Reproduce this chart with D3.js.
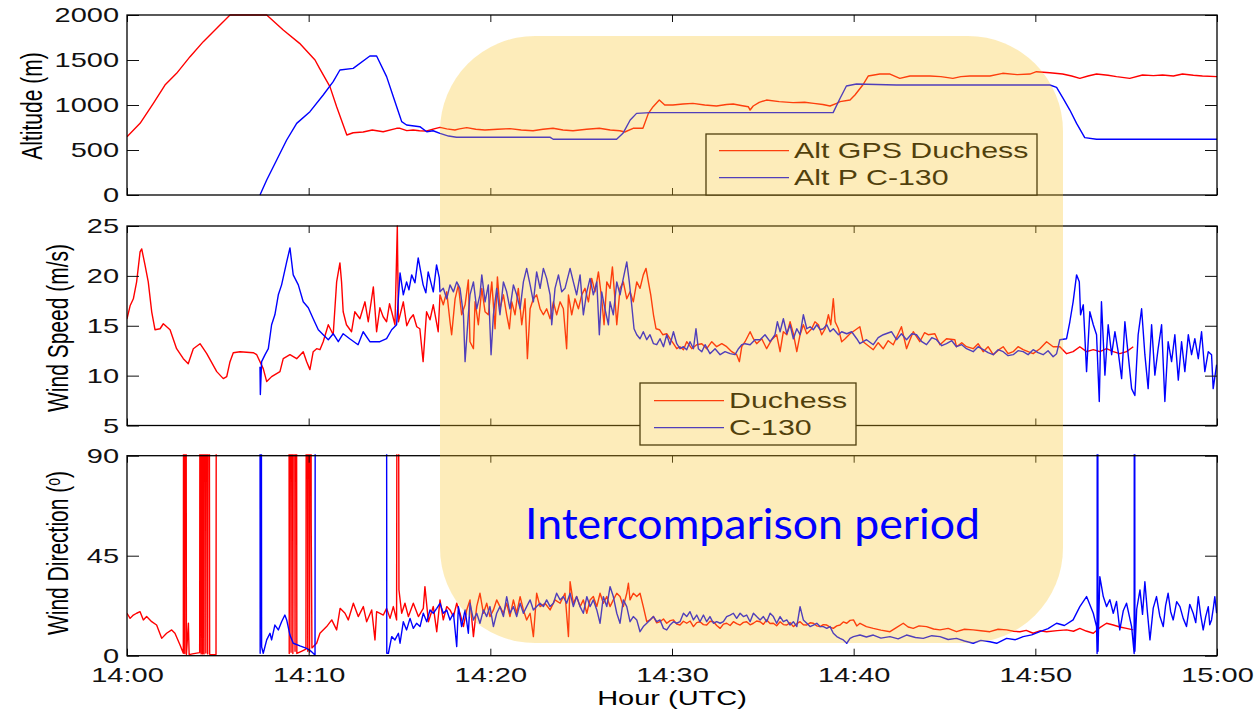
<!DOCTYPE html>
<html>
<head>
<meta charset="utf-8">
<script src="https://cdn.jsdelivr.net/npm/d3@7"></script>
<style>
  html, body { margin: 0; padding: 0; background: #fff; }
  svg { display: block; }
</style>
</head>
<body>
<svg id="chart" width="1259" height="711"></svg>
<script>
// ---------------------------------------------------------------
// Data: [minutes after 14:00 UTC, value]
// ---------------------------------------------------------------
const xTickMinutes = [0, 10, 20, 30, 40, 50, 60];
const xTickLabels = ["14:00", "14:10", "14:20", "14:30", "14:40", "14:50", "15:00"];
const altTicks = [0, 500, 1000, 1500, 2000];
const speedTicks = [5, 10, 15, 20, 25];
const dirTicks = [0, 45, 90];

const altLegendLabels = ["Alt GPS Duchess", "Alt P C-130"];
const windLegendLabels = ["Duchess", "C-130"];
const annotationText = "Intercomparison period";

// Altitude (m)
const altDuchess = [[0,648],[0.72,796],[1.45,1018],[2.09,1222],[2.73,1352],[3.47,1537],[4.2,1704],[4.94,1852],[5.67,2000],[7.69,2000],[8.6,1833],[9.5,1685],[10.35,1500],[10.6,1407],[11.17,1204],[11.54,981],[12.1,667],[12.45,692],[13.0,700],[13.5,722],[14.1,703],[14.84,741],[15.03,741],[15.4,715],[15.75,722],[16.1,714],[16.5,711],[16.9,735],[17.23,752],[17.6,735],[18.05,722],[18.3,735],[18.7,748],[19.2,730],[19.7,722],[20.4,730],[21.08,737],[21.7,722],[22.35,714],[22.9,730],[23.45,741],[24.0,722],[24.55,714],[25.3,730],[26.0,741],[26.6,722],[27.13,714],[27.4,700],[27.86,741],[28.4,741],[28.7,907],[28.96,981],[29.3,1055],[29.6,1000],[30.05,1000],[30.6,1011],[31.15,1018],[31.8,1000],[32.45,989],[33.0,1005],[33.37,1011],[33.8,995],[34.2,981],[34.3,944],[34.47,989],[34.8,1030],[35.2,1055],[35.9,1037],[36.66,1026],[37.3,1030],[37.8,1018],[38.3,1005],[38.7,989],[39.06,1018],[39.25,1037],[39.8,1055],[40.07,1111],[40.5,1222],[40.8,1322],[41.44,1344],[42.0,1344],[42.54,1296],[43.1,1322],[44.2,1322],[44.8,1315],[45.46,1296],[45.9,1315],[46.4,1322],[47.5,1322],[48.2,1352],[49.0,1337],[49.7,1344],[50.06,1370],[50.8,1359],[51.5,1344],[52.0,1322],[52.45,1296],[52.9,1322],[53.37,1344],[54.0,1330],[54.47,1315],[55.2,1296],[55.9,1333],[56.5,1326],[57.0,1333],[57.6,1322],[58.1,1344],[58.7,1330],[59.2,1322],[60,1315]];

const altC130 = [[7.32,0],[7.69,167],[8.24,389],[8.79,611],[9.34,796],[10.07,926],[10.8,1111],[11.35,1259],[11.72,1389],[12.45,1407],[13.37,1544],[13.74,1544],[14.29,1315],[14.66,1092],[15.03,870],[15.12,815],[15.39,778],[16.12,759],[16.5,703],[16.85,714],[17.23,685],[17.7,655],[18.14,641],[19.6,641],[21.45,641],[23.3,641],[23.46,619],[26.95,619],[27.3,685],[27.7,833],[28.05,907],[28.8,915],[38.87,915],[39.24,1070],[39.6,1211],[40.15,1233],[42.35,1222],[50.8,1222],[51.17,1196],[51.53,1074],[51.9,944],[52.27,796],[52.72,637],[53.37,619],[60,619]];

// Wind speed (m/s)
const speedDuchess = [[0,15.7],[0.17,17.0],[0.35,17.7],[0.53,19.4],[0.72,22.4],[0.81,22.7],[0.99,21.1],[1.17,19.4],[1.36,16.4],[1.54,14.6],[1.82,14.7],[2.0,15.2],[2.37,14.6],[2.73,12.7],[3.1,11.7],[3.37,11.2],[3.65,12.7],[4.02,13.2],[4.39,12.2],[4.94,10.4],[5.3,9.7],[5.49,9.9],[5.67,11.4],[5.85,12.3],[6.22,12.4],[6.95,12.3],[7.14,12.1],[7.5,10.7],[7.69,9.4],[7.96,9.9],[8.42,10.4],[8.6,11.7],[8.97,12.1],[9.34,11.7],[9.7,12.4],[9.89,11.4],[10.07,10.6],[10.25,12.4],[10.44,12.7],[10.62,12.6],[10.8,13.4],[11.08,15.1],[11.35,14.1],[11.54,19.4],[11.72,21.3],[11.81,19.4],[11.9,16.4],[12.08,15.1],[12.36,14.4],[12.54,16.4],[12.82,15.7],[13.1,17.4],[13.28,15.4],[13.56,18.9],[13.74,14.4],[13.92,16.8],[14.1,15.9],[14.29,15.4],[14.45,17.2],[14.57,16.4],[14.75,15.1],[14.88,25],[14.94,15.4],[15.21,17.4],[15.4,15.0],[15.58,15.7],[15.76,16.1],[15.95,14.9],[16.12,14.7],[16.3,11.4],[16.49,16.4],[16.68,15.6],[16.86,17.1],[17.13,14.4],
  [17.23,18.1],[17.41,17.1],[17.6,18.4],[17.78,15.4],[17.87,14.1],[18.06,17.7],[18.24,19.1],[18.42,16.1],[18.61,17.1],[18.79,19.6],[18.88,13.4],[19.07,12.7],[19.16,17.4],[19.34,15.1],[19.53,18.75],[19.71,16.4],[19.89,16.1],[20.08,19.4],[20.26,14.7],[20.39,19.9],[20.53,16.7],[20.72,18.1],[20.9,16.1],[21.05,14.7],[21.18,17.4],[21.36,16.1],[21.54,18.75],[21.73,15.1],[21.91,17.7],[22.04,11.7],[22.19,16.7],[22.37,17.7],[22.55,18.1],[22.74,16.7],[22.92,16.1],[23.1,16.7],[23.29,15.7],[23.47,17.4],[23.65,16.1],[23.84,17.4],[24.02,16.7],[24.2,12.7],[24.3,18.1],[24.48,16.1],[24.66,17.7],[24.85,16.7],[25.03,18.1],[25.21,18.75],[25.4,17.4],[25.58,19.75],[25.76,18.4],[25.95,20.4],[26.13,17.7],[26.26,15.1],[26.41,19.4],[26.59,18.75],[26.72,20.9],[26.87,17.4],[26.96,15.1],[27.14,18.75],[27.32,19.4],[27.51,17.7],[27.69,18.4],[27.87,17.4],[28.06,19.4],[28.24,18.75],[28.42,20.1],[28.57,20.75],[28.7,19.4],[28.83,18.1],[28.98,16.1],[29.12,14.7],[29.31,14.6],[29.49,14.1],[29.71,14.2],[29.89,13.7],[30.08,13.2],[30.26,12.7],[30.44,12.9],[30.63,12.6],[30.81,13.4],[31.09,12.7],[31.36,13.1],[31.64,13.2],[31.91,12.7],[32.19,13.4],[32.46,12.9],[32.74,13.2],[33.01,12.9],[33.29,12.4],[33.56,12.1],[33.71,11.4],[33.84,12.9],[34.02,13.4],[34.3,14.4],[34.48,13.7],[34.66,13.2],[34.94,13.7],[35.21,12.7],[35.49,13.6],[35.76,14.1],[35.95,12.4],[36.13,14.4],[36.32,14.1],[36.5,15.4],[36.68,14.2],[36.87,12.4],[37.05,14.1],[37.23,15.1],[37.42,14.2],[37.69,14.7],[37.87,15.4],[38.06,15.1],[38.24,14.1],[38.43,14.7],[38.61,16.1],[38.74,15.1],[38.88,17.7],[38.98,15.4],[39.16,14.7],[39.34,13.4],[39.53,13.7],[39.8,14.2],
  [40.34,14.9],[40.52,13.4],[40.8,13.0],[41.08,12.6],[41.35,13.3],[41.63,12.7],[41.9,13.5],[42.18,13.1],[42.63,14.9],[42.91,12.7],[43.1,13.6],[43.28,14.4],[43.64,13.4],[43.9,14.3],[44.1,14.1],[44.47,14.2],[44.75,13.1],[45.11,13.7],[45.57,13.6],[45.66,12.9],[45.95,13.3],[46.21,12.9],[46.58,12.7],[46.85,13.2],[47.13,12.4],[47.4,12.9],[47.68,12.1],[48.0,12.6],[48.23,12.9],[48.5,12.2],[48.78,12.4],[49.05,12.9],[49.33,12.6],[49.6,12.4],[49.88,12.2],[50.25,12.7],[50.62,13.4],[50.98,12.9],[51.35,12.9],[51.72,12.2],[52.08,12.4],[52.45,12.9],[52.82,12.4],[53.19,12.6],[53.55,12.4],[53.92,12.7],[54.29,12.4],[54.65,12.2],[55.02,12.4],[55.39,12.9]];

const speedC130 = [[7.32,10.9],[7.34,8.1],[7.41,11.4],[7.6,12.1],[7.78,12.7],[7.96,15.1],[8.14,16.1],[8.33,18.1],[8.51,19.1],[8.79,21.4],[8.97,22.8],[9.15,20.1],[9.43,19.1],[9.7,17.4],[9.98,16.8],[10.25,15.7],[10.53,14.6],[10.8,14.1],[11.08,13.6],[11.35,14.2],[11.63,13.4],[11.9,14.2],[12.26,13.7],[12.72,13.1],[13.0,14.4],[13.37,13.4],[13.92,13.4],[14.29,13.7],[14.57,14.6],[14.84,15.1],[15.03,20.3],[15.21,18.1],[15.39,19.4],[15.52,18.6],[15.67,20.1],[15.85,19.3],[16.03,21.8],[16.3,19.1],[16.45,18.3],[16.58,20.4],[16.86,18.4],[17.04,21.1],[17.19,19.8],
  [17.23,18.4],[17.41,18.75],[17.6,17.7],[17.78,19.1],[17.97,18.4],[18.15,19.4],[18.33,18.75],[18.52,16.1],[18.61,11.4],[18.79,16.1],[18.88,18.1],[19.07,19.4],[19.25,16.7],[19.43,18.1],[19.53,20.1],[19.71,17.4],[19.89,19.1],[20.04,12.1],[20.17,16.1],[20.35,18.75],[20.53,16.1],[20.72,19.4],[20.9,18.4],[21.08,16.7],[21.27,19.1],[21.45,18.1],[21.64,16.7],[21.82,19.4],[22.0,20.75],[22.19,19.1],[22.37,17.4],[22.55,20.4],[22.74,18.75],[22.92,20.75],[23.1,19.75],[23.29,18.1],[23.38,15.1],[23.56,18.75],[23.75,20.1],[23.93,18.4],[24.11,18.75],[24.39,20.75],[24.57,19.4],[24.75,18.1],[24.94,20.1],[25.12,16.1],[25.31,18.4],[25.49,19.75],[25.67,18.1],[25.86,19.4],[26.0,14.1],[26.13,18.4],[26.31,16.7],[26.5,15.1],[26.59,17.4],[26.77,16.1],[26.96,19.4],[27.14,18.1],[27.32,19.75],[27.51,21.4],[27.65,19.4],[27.78,17.1],[27.91,14.7],[28.06,14.1],[28.24,13.7],[28.42,14.4],[28.61,13.6],[28.79,14.1],[28.98,13.2],[29.16,13.1],[29.34,13.7],[29.53,12.9],[29.71,14.1],[29.89,13.1],[30.08,14.4],[30.26,13.2],[30.44,12.7],[30.63,12.9],[30.81,12.6],[30.99,13.4],[31.18,12.7],[31.32,14.7],[31.45,12.7],[31.64,12.4],[31.82,13.1],[32.09,12.2],[32.37,12.7],[32.65,12.1],[32.92,12.4],[33.2,12.2],[33.47,12.1],[33.66,12.7],[33.84,13.1],[34.02,13.2],[34.3,13.1],[34.57,13.6],[34.85,13.6],[35.12,14.1],[35.4,13.4],[35.67,14.1],[35.8,15.4],[35.95,14.4],[36.13,15.7],[36.32,14.2],[36.5,15.1],[36.68,13.7],[36.87,14.7],[37.05,14.1],[37.23,16.1],[37.42,14.7],[37.6,14.9],[37.78,14.6],[37.97,15.1],[38.15,14.6],[38.33,14.7],[38.52,15.1],[38.7,14.4],[38.88,14.7],[39.16,14.1],[39.34,14.4],[39.62,14.2],[39.89,14.4],[40.17,13.7],
  [40.34,13.2],[40.71,13.6],[41.08,13.1],[41.35,13.8],[41.63,14.1],[42.08,14.4],[42.36,13.6],[42.63,14.2],[42.91,13.6],[43.2,14.2],[43.46,14.1],[43.75,13.4],[44.01,13.1],[44.3,13.8],[44.56,13.6],[44.85,13.0],[45.11,13.2],[45.4,13.5],[45.66,12.9],[45.95,13.1],[46.21,12.7],[46.58,12.4],[46.85,12.9],[47.13,12.6],[47.4,12.3],[47.68,12.1],[47.95,12.6],[48.23,12.4],[48.5,12.0],[48.78,12.1],[49.05,12.5],[49.33,12.4],[49.6,12.1],[49.88,12.6],[50.15,12.3],[50.43,12.1],[50.7,12.5],[50.98,11.9],[51.17,12.2],[51.35,13.6],[51.72,13.7],[51.9,15.4],[52.08,17.4],[52.27,20.1],[52.42,19.4],[52.49,16.1],[52.64,17.1],[52.82,10.4],[53.0,16.4],[53.19,15.1],[53.37,14.1],[53.52,7.4],[53.64,17.4],[53.83,10.05],[54.01,15.1],[54.2,12.1],[54.38,14.4],[54.56,12.4],[54.75,9.7],[54.93,15.4],[55.11,12.1],[55.3,8.7],[55.48,8.0],[55.66,14.1],[55.85,16.7],[56.03,12.1],[56.21,8.7],[56.4,15.1],[56.58,10.05],[56.76,12.7],[56.95,15.1],[57.13,7.4],[57.31,13.4],[57.5,11.4],[57.68,14.1],[57.87,9.55],[58.05,13.4],[58.23,10.4],[58.42,14.1],[58.6,12.1],[58.78,13.7],[58.97,11.7],[59.15,14.4],[59.33,10.4],[59.52,12.4],[59.7,12.1],[59.79,8.7],[59.98,11.1]];

// Wind direction (deg); readings near 360 wrap past the top of the 0-90 window
const dirDuchess = [[0,19.1],[0.17,16.8],[0.35,18.3],[0.53,19.1],[0.72,19.8],[0.9,16.1],[1.08,17.6],[1.36,15.3],[1.63,13.8],[1.91,7.8],[2.18,10.1],[2.46,11.6],[2.64,10.1],[2.92,4.8],[3.1,1.1],[3.14,358],[3.18,1.0],[3.23,358],[3.27,0.5],[3.38,14.6],[3.42,0.5],[3.6,0.8],[4.0,1.4],[4.04,358],[4.08,0.8],[4.12,358],[4.16,0.8],[4.2,358],[4.24,0.8],[4.3,358],[4.34,1.2],[4.4,358],[4.44,0.8],[4.5,358],[4.55,0.6],[4.9,0.5],[4.94,358],[6.5,352],[8.9,355],[8.93,1.0],[8.98,358],[9.03,1.5],[9.08,358],[9.13,1.0],[9.2,358],[9.25,2.0],[9.3,358],[9.35,1.0],[9.6,2.0],[9.85,3.0],[9.9,358],[9.95,2.0],[10.0,358],[10.05,1.5],[10.1,358],[10.14,58.8],[10.18,3.5],[10.26,4.1],
  [10.44,5.6],[10.62,10.1],[10.99,13.1],[11.27,16.1],[11.54,11.6],[11.73,21.3],[12.0,19.1],[12.18,16.1],[12.46,23.6],[12.73,17.6],[13.01,22.1],[13.19,15.3],[13.47,20.6],[13.65,7.1],[13.74,19.8],[14.11,18.3],[14.29,21.3],[14.48,16.8],[14.66,22.1],[14.84,16.1],[14.9,358],[14.97,29.6],[15.12,19.1],[15.3,23.6],[15.49,17.6],[15.76,23.6],[16.04,17.6],[16.31,21.3],[16.4,31.1],[16.59,15.3],[16.86,22.1],[17.05,10.8],[17.23,25.1],
  [17.41,16.1],[17.6,22.1],[17.78,20.6],[17.97,17.6],[18.15,23.6],[18.33,19.1],[18.52,13.1],[18.7,20.6],[18.88,25.1],[19.07,8.6],[19.25,22.1],[19.43,28.1],[19.62,19.1],[19.8,23.6],[19.98,17.6],[20.17,20.6],[20.35,25.1],[20.53,22.1],[20.72,19.1],[20.9,23.6],[21.08,17.6],[21.27,25.1],[21.45,19.1],[21.64,26.6],[21.82,20.6],[22.0,16.1],[22.19,19.1],[22.37,8.6],[22.55,28.1],[22.74,22.1],[23.01,23.6],[23.29,20.6],[23.56,25.1],[23.84,23.6],[24.11,28.1],[24.3,8.6],[24.39,33.3],[24.57,23.6],[24.75,26.6],[24.94,22.1],[25.12,25.1],[25.31,19.1],[25.49,25.1],[25.67,26.6],[25.86,22.1],[26.04,28.1],[26.22,23.6],[26.41,26.6],[26.59,22.1],[26.77,25.1],[26.96,28.1],[27.14,26.6],[27.32,22.1],[27.51,28.1],[27.6,32.6],[27.69,25.1],[27.87,28.1],[28.06,26.6],[28.24,28.1],[28.42,22.1],[28.61,15.3],[28.79,16.1],[28.98,17.6],[29.16,14.8],[29.34,15.3],[29.53,16.5],[29.71,14.6],[29.9,15.8],[30.08,16.1],[30.26,14.2],[30.44,13.8],[30.63,15.5],[30.81,14.6],[31.0,15.6],[31.18,13.1],[31.36,14.9],[31.54,15.3],[31.73,14.0],[31.91,13.8],[32.1,15.5],[32.28,15.3],[32.46,13.6],[32.65,12.3],[32.83,14.2],[33.01,14.6],[33.2,13.6],[33.38,15.3],[33.56,14.4],[33.75,13.8],[33.93,15.0],[34.11,15.3],[34.3,13.9],[34.48,14.6],[34.66,15.6],[34.85,15.3],[35.03,14.1],[35.21,16.1],[35.4,14.5],[35.58,14.6],[35.76,13.5],[35.95,15.3],[36.13,14.0],[36.32,13.8],[36.5,14.9],[36.68,13.1],[36.87,14.4],[37.05,15.3],[37.23,13.9],[37.42,13.8],[37.6,14.8],[37.78,14.6],[37.97,13.4],[38.15,13.1],[38.33,14.0],[38.52,13.8],[38.7,12.9],[38.88,12.3],[39.07,13.4],[39.25,13.8],[39.43,15.2],[39.62,14.6],[39.8,15.9],[39.99,16.1],[40.17,13.4],[40.35,14.6],
  [40.7,13.1],[41.08,12.3],[41.5,11.5],[42.0,10.8],[42.35,12.6],[42.73,14.6],[43.0,12.9],[43.28,12.3],[43.6,13.4],[44.01,13.1],[44.4,12.0],[44.75,11.6],[45.2,12.3],[45.66,10.8],[46.1,11.9],[46.58,11.6],[47.0,11.2],[47.5,10.8],[47.95,11.9],[48.42,11.6],[48.8,11.0],[49.15,10.8],[49.5,11.4],[49.88,10.1],[50.25,11.2],[50.62,10.8],[51.2,11.3],[51.72,11.6],[52.1,11.0],[52.45,12.3],[52.8,11.1],[53.19,10.1],[53.55,12.6],[53.92,14.6],[54.29,13.8],[54.65,12.9],[55.02,12.3],[55.39,11.6]];

const dirC130 = [[7.31,358],[7.33,1.1],[7.37,358],[7.41,4.0],[7.5,1.1],[7.69,7.1],[7.87,10.1],[7.96,7.1],[8.14,13.8],[8.33,11.6],[8.51,15.3],[8.69,18.3],[8.79,16.1],[8.97,9.3],[9.15,5.6],[9.52,4.4],[9.89,3.3],[10.16,1.8],[10.35,0.3],[10.38,358],[12.5,355],[14.27,357],[14.3,1.1],[14.39,1.1],[14.57,8.6],[14.75,7.1],[14.94,10.1],[15.03,5.6],[15.21,15.3],[15.39,11.6],[15.58,16.8],[15.76,12.3],[15.94,14.6],[16.13,13.1],[16.31,19.1],[16.5,15.3],[16.68,20.6],[16.86,19.1],[17.05,21.3],[17.23,23.6],
  [17.41,19.1],[17.6,20.6],[17.78,16.1],[17.97,19.1],[18.15,4.1],[18.24,22.1],[18.42,13.1],[18.61,20.6],[18.79,10.1],[18.88,23.6],[19.07,16.1],[19.25,19.1],[19.43,14.6],[19.62,20.6],[19.8,17.6],[19.98,22.1],[20.17,13.1],[20.35,19.1],[20.53,22.1],[20.72,17.6],[20.9,26.6],[21.08,19.1],[21.27,22.1],[21.45,17.6],[21.64,23.6],[21.82,19.1],[22.0,22.1],[22.19,25.1],[22.37,20.6],[22.55,22.1],[22.74,23.6],[22.92,22.1],[23.1,25.1],[23.29,22.1],[23.47,23.6],[23.65,28.1],[23.84,25.1],[24.02,26.6],[24.2,23.6],[24.39,28.1],[24.57,22.1],[24.75,26.6],[24.94,22.1],[25.12,19.1],[25.31,26.6],[25.49,22.1],[25.67,25.1],[25.86,20.6],[26.04,14.6],[26.22,26.6],[26.41,22.1],[26.59,31.1],[26.77,26.6],[26.96,19.1],[27.14,14.6],[27.32,25.1],[27.51,22.1],[27.69,15.3],[27.87,17.6],[28.06,16.1],[28.24,10.8],[28.42,13.1],[28.61,14.6],[28.79,16.1],[28.98,17.6],[29.16,15.3],[29.34,16.1],[29.53,12.3],[29.71,11.6],[29.89,13.8],[30.08,15.3],[30.26,14.6],[30.44,15.3],[30.63,19.1],[30.81,17.6],[30.99,19.8],[31.18,16.1],[31.36,18.3],[31.54,15.3],[31.73,18.3],[31.91,15.3],[32.09,17.6],[32.28,14.6],[32.46,15.3],[32.65,14.6],[32.83,15.3],[33.01,17.6],[33.2,18.3],[33.38,19.1],[33.56,16.8],[33.75,19.1],[33.93,17.6],[34.11,18.3],[34.3,15.3],[34.48,19.1],[34.66,17.6],[34.85,16.1],[35.03,17.6],[35.21,15.3],[35.4,19.1],[35.58,17.6],[35.76,14.6],[35.95,17.6],[36.13,15.3],[36.32,16.1],[36.5,13.8],[36.68,15.3],[36.87,13.1],[37.05,22.1],[37.23,16.1],[37.42,14.6],[37.6,13.1],[37.78,13.8],[37.97,14.6],[38.15,13.1],[38.33,13.1],[38.52,12.3],[38.7,13.1],[38.88,10.1],[39.07,8.6],[39.25,7.8],[39.43,7.1],[39.62,5.6],[39.8,7.8],[39.99,8.6],[40.35,9.3],
  [40.7,8.4],[41.08,9.3],[41.5,7.9],[42.0,8.6],[42.45,7.6],[42.91,9.3],[43.4,8.2],[43.83,7.8],[44.3,9.0],[44.75,8.6],[45.2,7.3],[45.66,7.8],[46.1,6.6],[46.58,5.6],[47.0,6.9],[47.5,6.3],[47.87,5.6],[48.42,7.8],[48.9,7.2],[49.33,8.6],[49.8,9.4],[50.25,10.8],[50.7,12.2],[51.17,14.6],[51.6,13.6],[52.08,16.1],[52.45,22.1],[52.82,26.6],[53.19,19.1],[53.37,13.1],[53.4,1.0],[53.42,358],[53.45,2.0],[53.55,35.6],[53.74,26.6],[53.92,22.1],[54.1,25.2],[54.29,19.1],[54.47,24.4],[54.65,11.6],[54.84,20.2],[55.02,23.6],[55.3,13.1],[55.44,1.0],[55.46,358],[55.48,2.0],[55.58,20.9],[55.76,29.6],[55.9,18.6],[56.03,33.3],[56.17,19.5],[56.31,7.1],[56.49,21.4],[56.67,26.6],[56.85,17.9],[57.04,13.1],[57.17,22.5],[57.31,28.1],[57.45,19.8],[57.59,16.1],[57.78,24.3],[57.96,22.1],[58.14,16.8],[58.32,13.1],[58.5,23.1],[58.69,19.1],[58.83,14.9],[58.97,26.6],[59.1,18.4],[59.24,11.6],[59.38,17.7],[59.52,22.1],[59.6,13.9],[59.7,16.1],[59.8,21.5],[59.88,26.6],[59.98,19.1]];

// ---------------------------------------------------------------
// Layout and style
// ---------------------------------------------------------------
const RED = "#ff0000", BLUE = "#0000ff";
const FONT = '"Liberation Sans", Arial, Helvetica, sans-serif';
const SX = 1.38;              // horizontal stretch applied to the lettering
const plotLeft = 127, plotRight = 1217;

const svg = d3.select("#chart");
svg.append("rect").attr("width", 1259).attr("height", 711).attr("fill", "#fff");

const x = d3.scaleLinear().domain([0, 60]).range([plotLeft, plotRight]);

const panels = [
  { top: 15, bottom: 195, domain: [0, 2000], ticks: altTicks,
    series: [{ values: altDuchess, color: RED }, { values: altC130, color: BLUE }],
    title: "Altitude (m)", titleX: 42, titleY: 106, xLabels: false,
    legend: { x: 706, y: 134, w: 331, h: 61, lx1: 719, lx2: 789, tx: 794, rows: [150.5, 177.5], labels: altLegendLabels } },
  { top: 226, bottom: 425.5, domain: [5, 25], ticks: speedTicks,
    series: [{ values: speedDuchess, color: RED }, { values: speedC130, color: BLUE }],
    title: "Wind Speed (m/s)", titleX: 68, titleY: 328, xLabels: false,
    legend: { x: 640, y: 383, w: 216, h: 62, lx1: 654, lx2: 724, tx: 729, rows: [400.5, 427.5], labels: windLegendLabels } },
  { top: 455.7, bottom: 655.7, domain: [0, 90], ticks: dirTicks,
    series: [{ values: dirDuchess, color: RED }, { values: dirC130, color: BLUE }],
    title: "Wind Direction (", titleSup: "o", titleEnd: ")", titleX: 68, titleY: 553, xLabels: true,
    legend: null }
];

const labelLayer = svg.append("g");   // text outside the shaded period

panels.forEach((p, i) => {
  const y = d3.scaleLinear().domain(p.domain).range([p.bottom, p.top]);
  const g = svg.append("g");

  // clip area for the traces
  const clipId = "plotclip" + i;
  svg.append("clipPath").attr("id", clipId)
    .append("rect")
    .attr("x", plotLeft).attr("y", p.top - 1.5)
    .attr("width", plotRight - plotLeft).attr("height", p.bottom - p.top + 3);

  const line = d3.line().x(d => x(d[0])).y(d => y(d[1]));
  g.append("g").attr("clip-path", `url(#${clipId})`)
    .selectAll("path").data(p.series).join("path")
    .attr("d", d => line(d.values))
    .attr("fill", "none")
    .attr("stroke", d => d.color)
    .attr("stroke-width", 1.4)
    .attr("stroke-linejoin", "round");

  // inward ticks on all four sides
  const axStyle = sel => sel.attr("color", "#111").attr("font-family", FONT).attr("font-size", 21)
    .call(s => s.select(".domain").remove());

  const leftAxis = g.append("g").attr("transform", `translate(${plotLeft},0)`)
    .call(d3.axisLeft(y).tickValues(p.ticks).tickFormat(d3.format("d"))
      .tickSizeInner(-12).tickSizeOuter(0).tickPadding(8))
    .call(axStyle);
  leftAxis.selectAll("text").attr("x", -8 / SX).attr("transform", `scale(${SX},1)`);

  g.append("g").attr("transform", `translate(${plotRight},0)`)
    .call(d3.axisRight(y).tickValues(p.ticks).tickSizeInner(-12).tickSizeOuter(0).tickFormat(() => ""))
    .call(axStyle);

  g.append("g").attr("transform", `translate(0,${p.top})`)
    .call(d3.axisTop(x).tickValues(xTickMinutes).tickSizeInner(-7).tickSizeOuter(0).tickFormat(() => ""))
    .call(axStyle);

  const bottomAxis = g.append("g").attr("transform", `translate(0,${p.bottom})`)
    .call(d3.axisBottom(x).tickValues(xTickMinutes).tickSizeInner(-7).tickSizeOuter(0).tickPadding(11)
      .tickFormat((d, k) => p.xLabels ? xTickLabels[k] : ""))
    .call(axStyle);
  bottomAxis.selectAll("text").attr("transform", `scale(${SX},1)`);

  // axes box
  g.append("rect")
    .attr("x", plotLeft).attr("y", p.top)
    .attr("width", plotRight - plotLeft).attr("height", p.bottom - p.top)
    .attr("fill", "none").attr("stroke", "#000").attr("stroke-width", 1.3);

  // legend
  if (p.legend) {
    const L = p.legend;
    const lg = g.append("g");
    lg.append("rect").attr("x", L.x).attr("y", L.y).attr("width", L.w).attr("height", L.h)
      .attr("fill", "#fff").attr("stroke", "#000").attr("stroke-width", 1.3);
    L.labels.forEach((lab, k) => {
      lg.append("line").attr("x1", L.lx1).attr("x2", L.lx2)
        .attr("y1", L.rows[k]).attr("y2", L.rows[k])
        .attr("stroke", p.series[k].color).attr("stroke-width", 1.25);
      lg.append("text")
        .attr("transform", `translate(${L.tx},${L.rows[k]}) scale(${SX},1)`)
        .attr("dy", "0.36em")
        .attr("font-family", FONT).attr("font-size", 22).attr("fill", "#000")
        .text(lab);
    });
  }

  // y-axis title (rotated)
  const t = labelLayer.append("text")
    .attr("transform", `translate(${p.titleX},${p.titleY}) scale(${SX},1) rotate(-90)`)
    .attr("text-anchor", "middle")
    .attr("font-family", FONT).attr("font-size", 21).attr("fill", "#000");
  if (p.titleSup) {
    t.append("tspan").text(p.title);
    t.append("tspan").attr("font-size", 14).attr("dy", -6).text(p.titleSup);
    t.append("tspan").attr("dy", 6).text(p.titleEnd);
  } else {
    t.text(p.title);
  }
});

// x-axis title
labelLayer.append("text")
  .attr("transform", `translate(${(plotLeft + plotRight) / 2},705) scale(${SX},1)`)
  .attr("text-anchor", "middle")
  .attr("font-family", FONT).attr("font-size", 21).attr("fill", "#000")
  .text("Hour (UTC)");

// shaded intercomparison period (translucent, over the traces)
svg.append("rect")
  .attr("x", 440).attr("y", 36).attr("width", 623).attr("height", 607)
  .attr("rx", 95).attr("ry", 95)
  .attr("fill", "rgb(250,195,40)").attr("fill-opacity", 0.32);

svg.append("text")
  .attr("x", 525).attr("y", 539)
  .attr("font-family", "Lato, 'Open Sans', sans-serif").attr("font-size", 43)
  .attr("fill", "#0000ff")
  .attr("textLength", 455).attr("lengthAdjust", "spacingAndGlyphs")
  .text(annotationText);

labelLayer.raise();
</script>
</body>
</html>
